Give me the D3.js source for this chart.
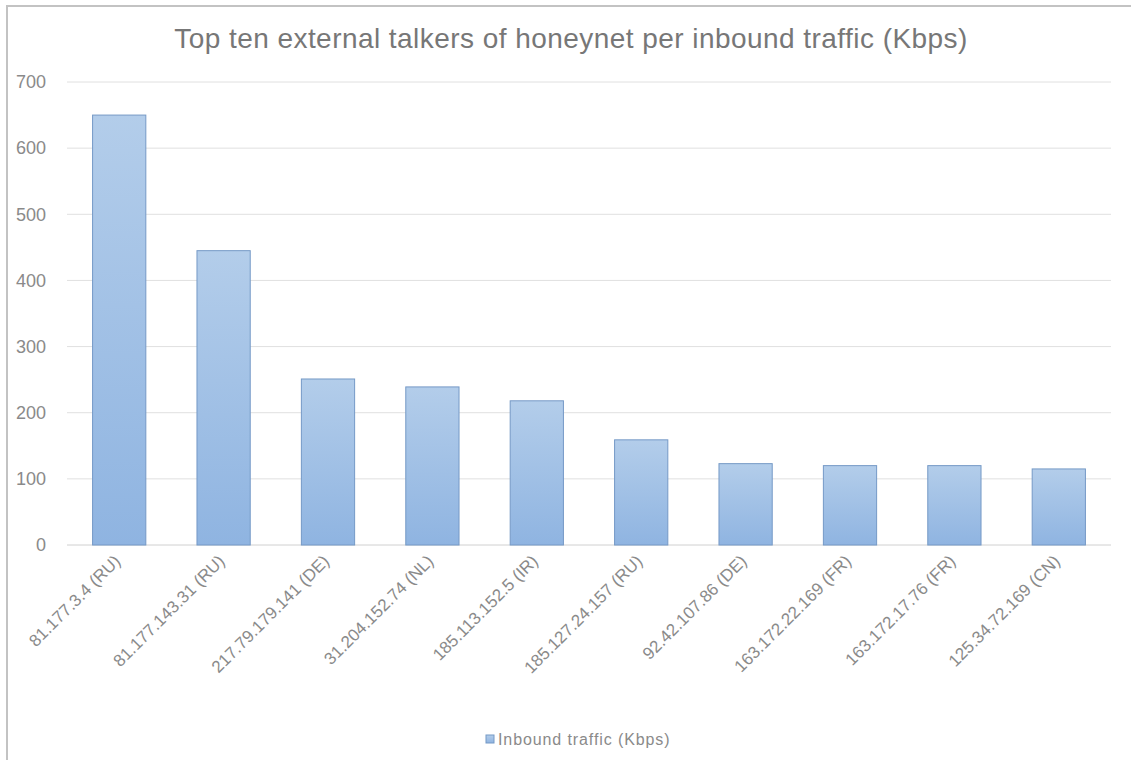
<!DOCTYPE html>
<html>
<head>
<meta charset="utf-8">
<script src="https://cdn.jsdelivr.net/npm/d3@7"></script>
<style>
  html, body { margin: 0; padding: 0; background: #fff; }
  svg { display: block; font-family: "Liberation Sans", Arial, sans-serif; }
</style>
</head>
<body>
<svg id="chart" width="1131" height="760"></svg>
<script>
// Hosts (with country code) and their inbound traffic in Kbps
const hosts = [
  "81.177.3.4 (RU)", "81.177.143.31 (RU)", "217.79.179.141 (DE)",
  "31.204.152.74 (NL)", "185.113.152.5 (IR)", "185.127.24.157 (RU)",
  "92.42.107.86 (DE)", "163.172.22.169 (FR)", "163.172.17.76 (FR)",
  "125.34.72.169 (CN)"
];
const inboundKbps = [650, 445, 251, 239, 218, 159, 123, 120, 120, 115];
const yTicks = [0, 100, 200, 300, 400, 500, 600, 700];
const chartTitle = "Top ten external talkers of honeynet per inbound traffic (Kbps)";
const seriesName = "Inbound traffic (Kbps)";

const svg = d3.select("#chart");
const W = 1131, H = 760;
const plot = { left: 67, right: 1111, top: 82, bottom: 545 };
const labelColor = "#8a8a8a";

// gradient used by the bars and the legend swatch
const defs = svg.append("defs");
const grad = defs.append("linearGradient")
  .attr("id", "barFill").attr("x1", 0).attr("y1", 0).attr("x2", 0).attr("y2", 1);
grad.append("stop").attr("offset", "0%").attr("stop-color", "#b3cdea");
grad.append("stop").attr("offset", "100%").attr("stop-color", "#8fb4e1");

// outer frame
svg.append("rect")
  .attr("x", 7).attr("y", 6).attr("width", W).attr("height", H)
  .attr("fill", "#fff").attr("stroke", "#c3c3c3").attr("stroke-width", 2);

const x = d3.scaleBand().domain(hosts).range([plot.left, plot.right]).paddingInner(0.49).paddingOuter(0.245);
const y = d3.scaleLinear().domain([0, 700]).range([plot.bottom, plot.top]);

// gridlines
svg.append("g").selectAll("line").data(yTicks).join("line")
  .attr("x1", plot.left).attr("x2", plot.right)
  .attr("y1", d => y(d)).attr("y2", d => y(d))
  .attr("stroke", d => d === 0 ? "#d0d0d0" : "#e0e0e0").attr("stroke-width", 1);

// y axis labels
const yAxis = d3.axisLeft(y).tickValues(yTicks).tickSize(0).tickPadding(0);
const gy = svg.append("g").attr("transform", `translate(46,0)`).call(yAxis);
gy.select(".domain").remove();
gy.selectAll("text").attr("font-size", 18).attr("fill", labelColor)
  .attr("font-family", "Liberation Sans, Arial, sans-serif");

// bars
svg.append("g").selectAll("rect").data(hosts).join("rect")
  .attr("x", d => x(d)).attr("width", x.bandwidth())
  .attr("y", (d, i) => y(inboundKbps[i]))
  .attr("height", (d, i) => y(0) - y(inboundKbps[i]))
  .attr("fill", "url(#barFill)").attr("stroke", "#7599c6").attr("stroke-width", 1);

// x axis labels, rotated
const xAxis = d3.axisBottom(x).tickSize(0).tickPadding(0);
const gx = svg.append("g").attr("transform", `translate(0,${plot.bottom})`).call(xAxis);
gx.select(".domain").remove();
gx.selectAll("text")
  .attr("font-size", 17).attr("fill", labelColor)
  .attr("font-family", "Liberation Sans, Arial, sans-serif")
  .attr("text-anchor", "end").attr("dy", "0.35em")
  .attr("transform", "translate(-2,13) rotate(-45)");

// title
svg.append("text")
  .attr("x", 571).attr("y", 48).attr("text-anchor", "middle")
  .attr("font-size", 28).attr("letter-spacing", 0.45).attr("fill", "#777")
  .text(chartTitle);

// legend
const lg = svg.append("g").attr("transform", "translate(486,735)");
lg.append("rect").attr("x", 0).attr("y", 0).attr("width", 8).attr("height", 8)
  .attr("fill", "url(#barFill)").attr("stroke", "#7599c6").attr("stroke-width", 1);
lg.append("text").attr("x", 12).attr("y", 10).attr("font-size", 16)
  .attr("letter-spacing", 0.9).attr("fill", labelColor)
  .text(seriesName);
</script>
</body>
</html>
